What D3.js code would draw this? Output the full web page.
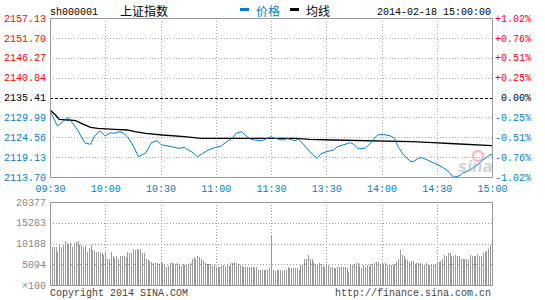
<!DOCTYPE html>
<html>
<head>
<meta charset="utf-8">
<script src="https://d3js.org/d3.v7.min.js"></script>
<style>
  body { margin: 0; background: #fff; }
  svg text { font-family: "Liberation Mono", "DejaVu Sans Mono", monospace; font-size: 10px; }
  .cjk { font-family: "Noto Sans CJK SC", sans-serif !important; font-size: 12px !important; }
</style>
</head>
<body>
<script>
var width = 545, height = 300;
var red = "#ff0000", blue = "#0080cc", grey = "#999";

// --- data ---
var preClose = 2135.41;
var priceTicks = [2157.13, 2151.70, 2146.27, 2140.84, 2135.41, 2129.99, 2124.56, 2119.13, 2113.70];
var pctLabels = ["+1.02%", "+0.76%", "+0.51%", "+0.25%", "0.00%", "-0.25%", "-0.51%", "-0.76%", "-1.02%"];
var timeTicks = [0, 30, 60, 90, 120, 150, 180, 210, 240];
var timeLabels = ["09:30", "10:00", "10:30", "11:00", "11:30", "13:30", "14:00", "14:30", "15:00"];
var volTicks = [20377, 15283, 10188, 5094, 0];

// [minute, price]
var pricePts = [
  [0,2131.81],[4,2127.63],[10,2130.01],[15,2126.54],[19,2122.99],[22,2122.63],[24,2124.71],
  [27,2126.35],[30,2124.90],[33,2125.80],[35,2125.64],[38,2126.07],[40,2125.64],[42,2124.71],
  [45,2122.44],[48,2119.25],[52,2120.26],[55,2123.07],[58,2123.62],[60,2122.71],[61,2122.44],
  [66,2121.98],[70,2121.54],[73,2121.81],[75,2121.08],[77,2120.61],[80,2119.25],[83,2120.17],
  [86,2121.08],[90,2121.81],[93,2122.17],[96,2123.34],[99,2124.27],[101,2125.64],[104,2126.07],
  [106,2125.17],[109,2124.00],[111,2123.81],[115,2123.62],[118,2124.27],[120,2124.71],
  [122,2124.27],[126,2123.81],[129,2124.16],[133,2123.62],[135,2124.00],[138,2122.44],
  [141,2120.61],[145,2118.81],[147,2119.98],[150,2120.61],[154,2121.08],[156,2121.98],
  [159,2122.44],[163,2123.07],[165,2122.63],[167,2121.54],[171,2121.54],[174,2122.91],
  [176,2124.27],[178,2125.17],[181,2125.36],[185,2124.90],[187,2124.27],[189,2121.98],
  [192,2119.71],[196,2117.88],[198,2118.07],[200,2118.81],[202,2118.97],[205,2118.34],
  [208,2117.61],[211,2116.98],[214,2116.08],[217,2114.88],[219,2113.62],[222,2113.97],
  [224,2114.71],[228,2115.61],[232,2116.98],[235,2118.34],[238,2119.44],[240,2119.98]
];

var avgPts = [
  [0,2132.00],[3,2130.64],[5,2129.46],[10,2129.27],[14,2129.08],[17,2128.37],[22,2127.28],
  [26,2127.00],[35,2126.73],[42,2126.54],[46,2126.07],[52,2125.64],[61,2125.17],[73,2124.71],
  [82,2124.27],[133,2124.27],[141,2124.00],[154,2123.81],[196,2123.34],[208,2123.07],
  [217,2122.85],[240,2122.25]
];

// volume per minute, x100
var volumes = [
  9250,9400,9400,9250,8200,9800,9400,9800,10900,10200,10100,
  10200,9400,10200,10600,10900,9800,9800,9400,9600,8200,9000,
  9800,8600,8400,8200,8200,7800,7900,7400,8200,6500,6300,
  8200,7000,6700,7000,6500,7000,7100,7000,6800,8200,7900,
  7800,8800,8600,8800,8600,8800,7900,7800,6500,6100,6000,
  5700,5500,5500,5300,5200,5700,5300,4900,4300,4700,5500,
  5500,5500,5200,5300,4900,4700,5200,4900,4900,5200,5500,
  6500,6800,6500,7000,6800,6500,6000,5300,5200,5200,5200,
  4700,4900,4500,4300,4500,4700,4900,4700,5200,4700,5500,
  5500,5700,5300,5200,4900,4700,4300,4300,4300,4300,4300,
  4300,4100,4500,3800,3800,3800,3800,3700,3800,4100,
  12300,
  3700,3500,3800,3800,3700,3500,3800,3800,4300,4100,4100,
  4100,4100,4250,3700,4900,5200,6300,6500,7400,6500,6500,
  5700,5200,5200,5300,5200,4700,4300,5200,4900,4500,4500,
  4100,4100,4500,4500,4300,4300,4500,4100,3300,4900,4900,
  5200,5500,5300,4700,4100,4900,4500,4900,4700,5200,5200,
  5300,5700,5700,5200,5300,5200,5500,4900,4900,4900,4900,
  5200,5700,6500,8600,7400,7000,6500,6100,5700,6000,6000,
  5200,5500,5300,5500,5200,4900,5300,5200,4900,4900,4900,
  5200,5300,5700,6000,6300,7400,7100,7800,7800,7100,7100,
  7400,7000,7100,6500,6500,6500,6300,6100,7400,7000,7000,
  7100,7600,7100,7000,7900,8200,8400,8800,9800,11000
];

// --- layout ---
var pL = 50, pR = 492, pT = 18, pB = 177, vT = 202, vB = 285;

var svg = d3.select("body").append("svg")
  .attr("width", width).attr("height", height);

var x = d3.scaleLinear().domain([0, 240]).range([pL, pR]);
var y = d3.scaleLinear().domain([2113.70, 2157.13]).range([pB, pT]);
var vy = d3.scaleLinear().domain([0, 20377]).range([vB, vT]);

function colorFor(d) { return d > preClose ? red : d < preClose ? blue : "#000"; }

// header
svg.append("text").attr("x", 50).attr("y", 15).attr("fill", "#000").text("sh000001");
svg.append("text").attr("class", "cjk").attr("x", 120).attr("y", 16).attr("fill", "#000").text("上证指数");
svg.append("rect").attr("x", 240).attr("y", 8).attr("width", 9).attr("height", 3).attr("fill", blue);
svg.append("text").attr("class", "cjk").attr("x", 256).attr("y", 16).attr("fill", blue).text("价格");
svg.append("rect").attr("x", 290).attr("y", 8).attr("width", 9).attr("height", 3).attr("fill", "#000");
svg.append("text").attr("class", "cjk").attr("x", 306).attr("y", 16).attr("fill", "#000").text("均线");
svg.append("text").attr("x", 491).attr("y", 15).attr("text-anchor", "end").attr("fill", "#000")
  .text("2014-02-18 15:00:00");

// grid - price
var grid = svg.append("g").attr("shape-rendering", "crispEdges");
grid.selectAll("line.h").data(priceTicks.slice(1, -1)).enter().append("line")
  .attr("x1", pL).attr("x2", pR)
  .attr("y1", d => Math.round(y(d)) + 0.5).attr("y2", d => Math.round(y(d)) + 0.5)
  .attr("stroke", d => d === preClose ? "#000" : "#aaa")
  .attr("stroke-dasharray", d => d === preClose ? "3,2" : "1,2");
grid.selectAll("line.v").data(timeTicks.slice(1, -1)).enter().append("line")
  .attr("y1", pT).attr("y2", pB)
  .attr("x1", d => Math.round(x(d)) + 0.5).attr("x2", d => Math.round(x(d)) + 0.5)
  .attr("stroke", "#aaa").attr("stroke-dasharray", "1,2");

// price lines
var line = d3.line().x(d => x(d[0])).y(d => y(d[1]));
svg.append("path").datum(avgPts).attr("d", line)
  .attr("fill", "none").attr("stroke", "#000").attr("stroke-width", 1.3);
svg.append("path").datum(pricePts).attr("d", line)
  .attr("fill", "none").attr("stroke", blue).attr("stroke-width", 1);

// sina watermark
var wm = svg.append("g").attr("opacity", 0.5);
wm.append("circle").attr("cx", 478).attr("cy", 156).attr("r", 5).attr("fill", "none")
  .attr("stroke", "#f08080").attr("stroke-width", 2.5);
wm.append("text").attr("x", 458).attr("y", 172).attr("fill", "#aaa")
  .style("font-family", "DejaVu Sans").style("font-size", "15px")
  .style("font-style", "italic").style("font-weight", "bold").text("sina");

// frame
svg.append("rect").attr("x", pL + 0.5).attr("y", pT + 0.5)
  .attr("width", pR - pL).attr("height", pB - pT)
  .attr("fill", "none").attr("stroke", grey).attr("shape-rendering", "crispEdges");

// axes
var ax = svg.append("g").attr("transform", `translate(${pL},0)`)
  .call(d3.axisLeft(y).tickValues(priceTicks).tickFormat(d3.format(".2f")).tickSize(0).tickPadding(4));
ax.select(".domain").remove();
ax.selectAll("text").attr("fill", d => colorFor(d));

var ar = svg.append("g").attr("transform", `translate(${pR},0)`)
  .call(d3.axisRight(y).tickValues(priceTicks).tickFormat((d, i) => pctLabels[i]).tickSize(0));
ar.select(".domain").remove();
ar.selectAll("text").attr("text-anchor", "end").attr("x", 39).attr("fill", d => colorFor(d));

var axb = svg.append("g").attr("transform", `translate(0,${pB})`)
  .call(d3.axisBottom(x).tickValues(timeTicks).tickFormat((d, i) => timeLabels[i]).tickSize(0).tickPadding(8));
axb.select(".domain").remove();
axb.selectAll("text").attr("fill", blue);

// volume bars
svg.append("g").attr("shape-rendering", "crispEdges")
  .selectAll("rect").data(volumes).enter().append("rect")
  .attr("x", (d, i) => Math.round(x(i)))
  .attr("width", 1)
  .attr("y", d => vy(d))
  .attr("height", d => vB - vy(d))
  .attr("fill", grey);

// volume grid
var vgrid = svg.append("g").attr("shape-rendering", "crispEdges");
vgrid.selectAll("line.h").data(volTicks.slice(1, -1)).enter().append("line")
  .attr("x1", pL).attr("x2", pR)
  .attr("y1", d => Math.round(vy(d)) + 0.5).attr("y2", d => Math.round(vy(d)) + 0.5)
  .attr("stroke", "#999").attr("stroke-dasharray", "1,2");
vgrid.selectAll("line.v").data(timeTicks.slice(1, -1)).enter().append("line")
  .attr("y1", vT).attr("y2", vB)
  .attr("x1", d => Math.round(x(d)) + 0.5).attr("x2", d => Math.round(x(d)) + 0.5)
  .attr("stroke", "#999").attr("stroke-dasharray", "1,2");

svg.append("rect").attr("x", pL + 0.5).attr("y", vT + 0.5)
  .attr("width", pR - pL).attr("height", vB - vT)
  .attr("fill", "none").attr("stroke", grey).attr("shape-rendering", "crispEdges");

var av = svg.append("g").attr("transform", `translate(${pL},0)`)
  .call(d3.axisLeft(vy).tickValues(volTicks).tickFormat(d => d === 0 ? "×100" : d).tickSize(0).tickPadding(4));
av.select(".domain").remove();
av.selectAll("text").attr("fill", "#888");

// footer
svg.append("text").attr("x", 50).attr("y", 296).attr("fill", "#444").text("Copyright 2014 SINA.COM");
svg.append("text").attr("x", 491).attr("y", 296).attr("text-anchor", "end").attr("fill", "#444")
  .text("http://finance.sina.com.cn");
</script>
</body>
</html>
